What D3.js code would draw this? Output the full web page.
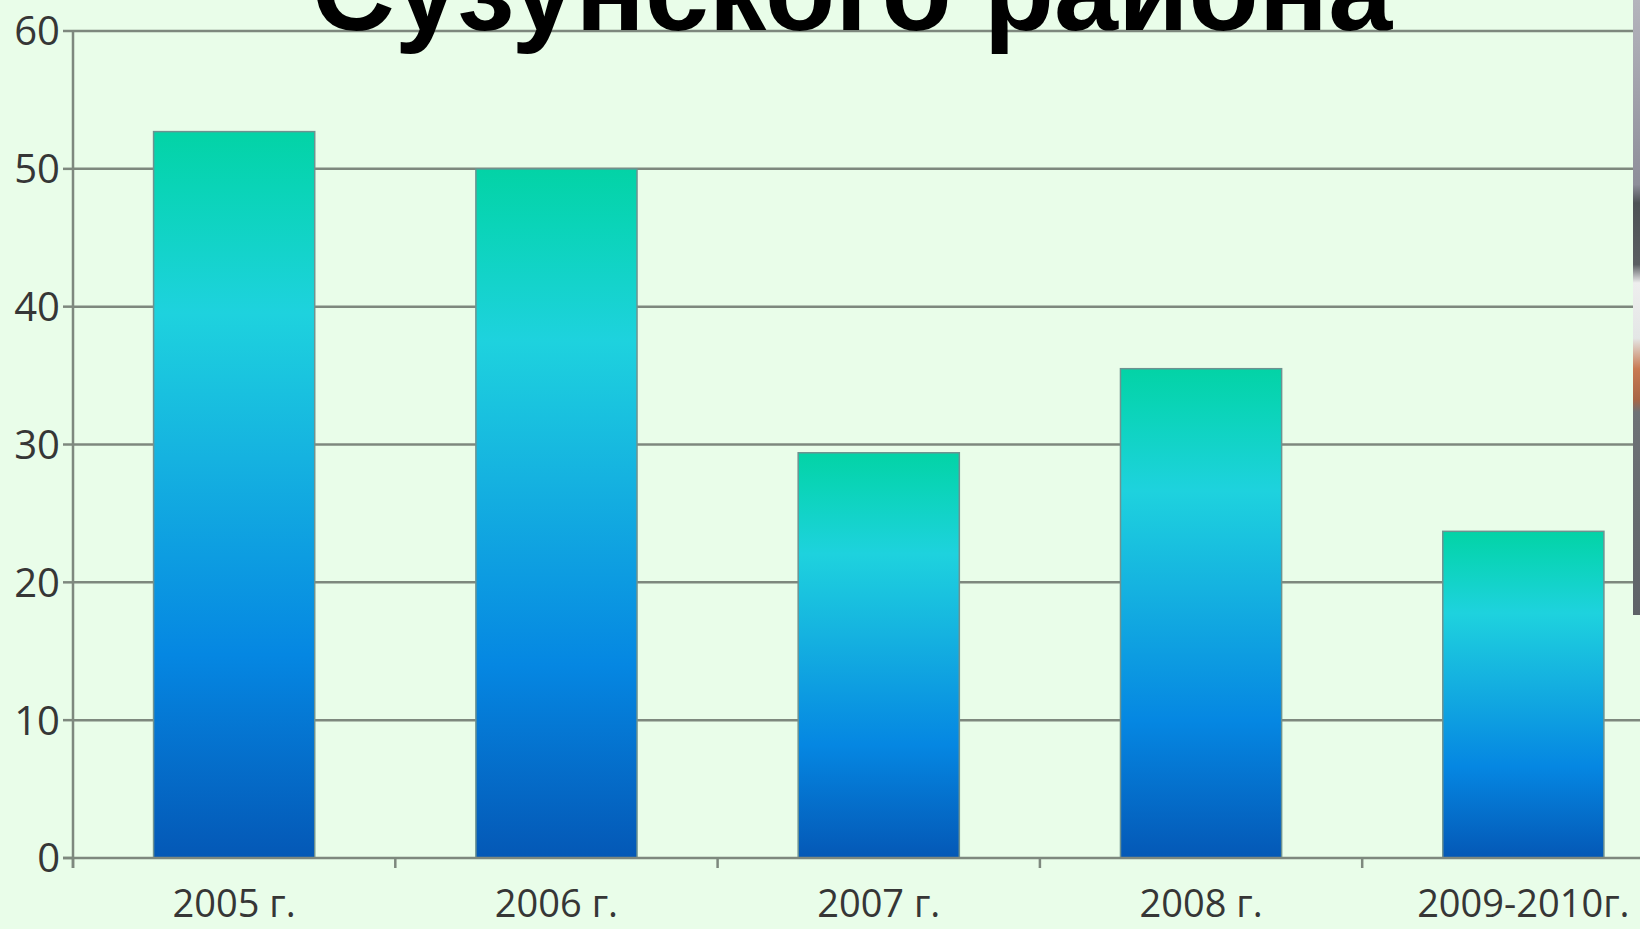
<!DOCTYPE html>
<html>
<head>
<meta charset="utf-8">
<script src="https://cdn.jsdelivr.net/npm/d3@7"></script>
<style>
  html, body { margin: 0; padding: 0; background: #E9FDE9; overflow: hidden; }
  svg { display: block; }
</style>
</head>
<body>
<svg id="chart" width="1640" height="929"></svg>
<script>
// ---- data ----
const categories = ["2005 г.", "2006 г.", "2007 г.", "2008 г.", "2009-2010г."];
const values = [52.7, 50.0, 29.4, 35.5, 23.7];
const yTicks = [0, 10, 20, 30, 40, 50, 60];
const titleText = "Сузунского района";

(function () {
const W = 1640, H = 929;
const svg = d3.select("#chart");

svg.append("rect").attr("width", W).attr("height", H).attr("fill", "#E9FDE9");

const plotLeft = 73, plotTop = 31, plotBottom = 858;
const x = d3.scaleBand().domain(categories).range([plotLeft, 1684.5]).paddingInner(0.5).paddingOuter(0.25);
const y = d3.scaleLinear().domain([0, 60]).range([plotBottom, plotTop]);

// gradient
const defs = svg.append("defs");
const g = defs.append("linearGradient").attr("id", "barGrad")
  .attr("x1", 0).attr("y1", 0).attr("x2", 0).attr("y2", 1);
[["0%", "#03D3A6"], ["8%", "#0AD4B8"], ["25%", "#1ED2DE"], ["45%", "#15B2E0"], ["72%", "#0587E2"], ["100%", "#0458B6"]]
  .forEach(([o, c]) => g.append("stop").attr("offset", o).attr("stop-color", c));

// gridlines
const gridColor = "#7E887E";
svg.append("g").selectAll("line").data(yTicks.filter(d => d > 0)).join("line")
  .attr("x1", plotLeft).attr("x2", W)
  .attr("y1", d => y(d)).attr("y2", d => y(d))
  .attr("stroke", gridColor).attr("stroke-width", 2.5);

// bars
svg.append("g").selectAll("rect").data(values).join("rect")
  .attr("x", (d, i) => x(categories[i]))
  .attr("width", x.bandwidth())
  .attr("y", d => y(d))
  .attr("height", d => y(0) - y(d))
  .attr("fill", "url(#barGrad)")
  .attr("stroke", "#6E9290").attr("stroke-width", 1.5);

// y axis
const yAxis = svg.append("g");
yAxis.append("line").attr("x1", plotLeft).attr("x2", plotLeft).attr("y1", plotTop).attr("y2", plotBottom + 10)
  .attr("stroke", gridColor).attr("stroke-width", 2.5);
yAxis.selectAll("line.tick").data(yTicks).join("line").attr("class", "tick")
  .attr("x1", plotLeft - 10).attr("x2", plotLeft).attr("y1", d => y(d)).attr("y2", d => y(d))
  .attr("stroke", gridColor).attr("stroke-width", 2.5);
yAxis.selectAll("text").data(yTicks).join("text")
  .attr("x", 60).attr("y", d => y(d)).attr("dy", "0.36em")
  .attr("text-anchor", "end")
  .attr("font-family", "'Open Sans', sans-serif").attr("font-size", 40)
  .attr("fill", "#363636")
  .text(d => d);

// x axis
const xAxis = svg.append("g");
xAxis.append("line").attr("x1", plotLeft - 10).attr("x2", W).attr("y1", plotBottom).attr("y2", plotBottom)
  .attr("stroke", gridColor).attr("stroke-width", 2.5);
const bounds = d3.range(categories.length + 1).map(i => x.range()[0] + i * x.step());
xAxis.selectAll("line.tick").data(bounds).join("line").attr("class", "tick")
  .attr("x1", d => d).attr("x2", d => d).attr("y1", plotBottom).attr("y2", plotBottom + 10)
  .attr("stroke", gridColor).attr("stroke-width", 2.5);
xAxis.selectAll("text").data(categories).join("text")
  .attr("x", d => x(d) + x.bandwidth() / 2).attr("y", 917)
  .attr("text-anchor", "middle")
  .attr("font-family", "'Open Sans', sans-serif").attr("font-size", 38)
  .attr("fill", "#363636")
  .text(d => d);

// title (top cut off in the original)
svg.append("text").attr("x", 852).attr("y", 30)
  .attr("text-anchor", "middle")
  .attr("font-family", "'Liberation Sans', Arial, sans-serif").attr("font-weight", "bold")
  .attr("font-size", 115).attr("fill", "#000")
  .text(titleText);

// edge of neighbouring picture at right border
const eg = defs.append("linearGradient").attr("id", "edgeGrad")
  .attr("x1", 0).attr("y1", 0).attr("x2", 0).attr("y2", 1);
[["0%", "#B4B4BC"], ["30%", "#8E8E9A"], ["33%", "#4E5256"], ["43%", "#5A5E62"], ["46%", "#EEEEEE"], ["55%", "#E4E6E6"],
 ["60%", "#C87A52"], ["65%", "#A86646"], ["67%", "#6E7276"], ["100%", "#5E6268"]]
  .forEach(([o, c]) => eg.append("stop").attr("offset", o).attr("stop-color", c));
svg.append("rect").attr("x", 1633).attr("y", 0).attr("width", 7).attr("height", 615).attr("fill", "url(#edgeGrad)");
})();
</script>
</body>
</html>
